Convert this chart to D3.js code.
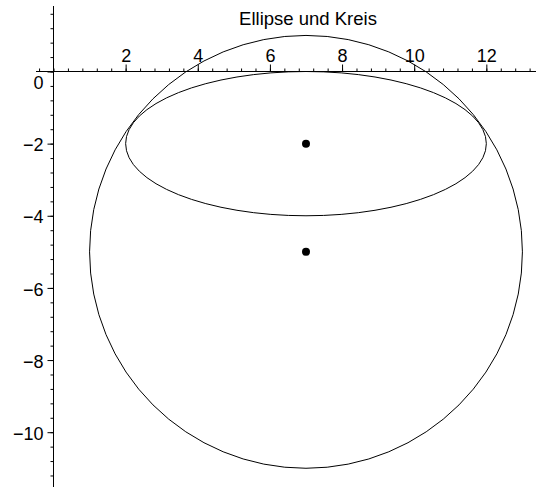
<!DOCTYPE html>
<html>
<head>
<meta charset="utf-8">
<script src="https://cdn.jsdelivr.net/npm/d3@7"></script>
<style>
  html, body { margin: 0; padding: 0; background: #fff; }
  svg { display: block; }
  text { font-family: "Liberation Sans", Arial, sans-serif; fill: #000; }
</style>
</head>
<body>
<div id="chart"></div>
<script>
// Ellipse und Kreis
const title = "Ellipse und Kreis";
const shapes = ["Ellipse", "Kreis"];
const centerX = [7, 7];
const centerY = [-2, -5];
const radiusX = [5, 6];
const radiusY = [2, 6];
const xTicks = [2, 4, 6, 8, 10, 12];
const yTicks = [0, -2, -4, -6, -8, -10];
const xMinorStep = 0.4;
const yMinorStep = 0.4;

const width = 536, height = 487;

const x = d3.scaleLinear().domain([0, 13]).range([53.5, 53.5 + 13 * 36.07]);
const y = d3.scaleLinear().domain([0, -11]).range([71.5, 71.5 + 11 * 36.07]);

const svg = d3.select("#chart").append("svg")
  .attr("width", width)
  .attr("height", height);

// minor tick values, both directions
const xMin = x.invert(36), xMax = x.invert(width);
const yMax = y.invert(6), yMin = y.invert(height);
const xMinor = d3.range(Math.ceil(xMin / xMinorStep), Math.floor(xMax / xMinorStep) + 1)
  .map(i => +(i * xMinorStep).toFixed(2));
const yMinor = d3.range(Math.ceil(yMin / yMinorStep), Math.floor(yMax / yMinorStep) + 1)
  .map(i => +(i * yMinorStep).toFixed(2));

// x axis (crosses at y = 0)
svg.append("g")
  .attr("transform", `translate(0,${y(0)})`)
  .call(d3.axisTop(x).tickValues(xMinor).tickSize(3).tickSizeOuter(0).tickFormat(""))
  .call(g => g.select(".domain").remove());

svg.append("g")
  .attr("transform", `translate(0,${y(0)})`)
  .call(d3.axisTop(x).tickValues(xTicks).tickSize(7).tickPadding(3).tickSizeOuter(0))
  .call(g => g.select(".domain").remove())
  .call(g => g.selectAll("text").style("font-size", "18px").style("font-family", null));

svg.append("line")
  .attr("x1", x(xMin)).attr("x2", x(xMax))
  .attr("y1", y(0)).attr("y2", y(0))
  .attr("stroke", "#000");

// y axis (crosses at x = 0)
svg.append("g")
  .attr("transform", `translate(${x(0)},0)`)
  .call(d3.axisLeft(y).tickValues(yMinor).tickSize(3).tickSizeOuter(0).tickFormat(""))
  .call(g => g.select(".domain").remove());

svg.append("g")
  .attr("transform", `translate(${x(0)},0)`)
  .call(d3.axisLeft(y).tickValues(yTicks).tickSize(6).tickPadding(4).tickSizeOuter(0))
  .call(g => g.select(".domain").remove())
  .call(g => g.selectAll("text")
    .style("font-size", "18px").style("font-family", null)
    .attr("dy", d => d === 0 ? "0.95em" : "0.4em"));

svg.append("line")
  .attr("x1", x(0)).attr("x2", x(0))
  .attr("y1", y(yMax)).attr("y2", y(yMin))
  .attr("stroke", "#000");

// curves
const data = shapes.map((name, i) => ({
  name, cx: centerX[i], cy: centerY[i], rx: radiusX[i], ry: radiusY[i]
}));

svg.append("g")
  .selectAll("ellipse")
  .data(data)
  .enter().append("ellipse")
    .attr("cx", d => x(d.cx))
    .attr("cy", d => y(d.cy))
    .attr("rx", d => x(d.cx + d.rx) - x(d.cx))
    .attr("ry", d => y(d.cy - d.ry) - y(d.cy))
    .attr("fill", "none")
    .attr("stroke", "#000")
    .attr("stroke-width", 1);

// centres
svg.append("g")
  .selectAll("circle")
  .data(data)
  .enter().append("circle")
    .attr("cx", d => x(d.cx))
    .attr("cy", d => y(d.cy))
    .attr("r", 4)
    .attr("fill", "#000");

// title
svg.append("text")
  .attr("x", 308)
  .attr("y", 25)
  .attr("text-anchor", "middle")
  .style("font-size", "18.5px")
  .text(title);
</script>
</body>
</html>
